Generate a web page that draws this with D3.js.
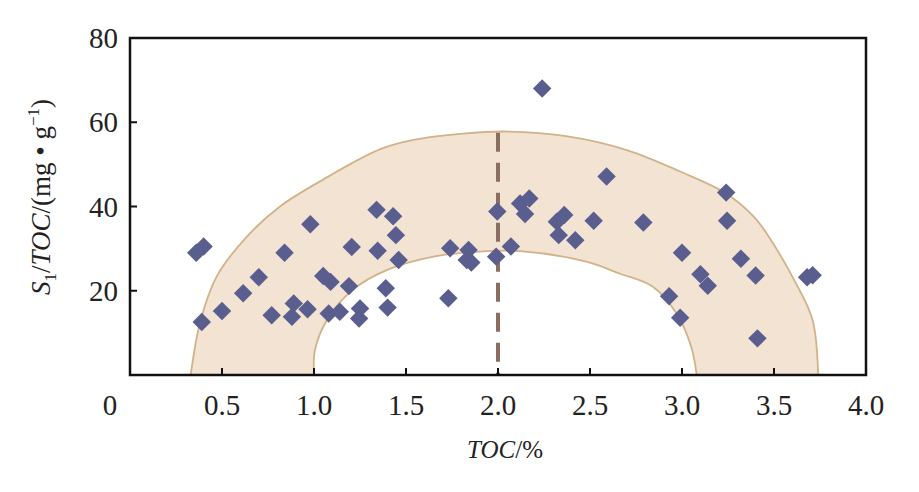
<!DOCTYPE html>
<html>
<head>
<meta charset="utf-8">
<script src="https://cdn.jsdelivr.net/npm/d3@7"></script>
<style>
  body { margin: 0; background: #fff; }
  text { font-family: "Liberation Serif", "Times New Roman", serif; fill: #222; }
</style>
</head>
<body>
<svg id="chart" width="919" height="492"></svg>
<script>
// sample points: TOC (%) and S1/TOC (mg/g)
const toc = [0.36, 0.40, 0.39, 0.50, 0.615, 0.70, 0.84, 0.98, 0.77, 0.89, 0.88, 0.965,
  1.05, 1.09, 1.19, 1.08, 1.14, 1.25, 1.245, 1.205, 1.34, 1.43, 1.445, 1.346, 1.46,
  1.39, 1.40, 1.73, 1.74, 1.84, 1.83, 1.855, 1.99, 2.07, 1.996, 2.12, 2.17, 2.147,
  2.24, 2.32, 2.36, 2.33, 2.42, 2.52, 2.59, 2.79, 3.24, 3.245, 3.00, 3.32, 3.40,
  3.10, 3.14, 2.93, 2.99, 3.41, 3.68, 3.71];
const s1toc = [29.0, 30.5, 12.6, 15.2, 19.4, 23.2, 29.0, 35.8, 14.2, 17.0, 13.8, 15.6,
  23.5, 22.1, 21.1, 14.6, 15.0, 15.8, 13.4, 30.4, 39.2, 37.7, 33.2, 29.5, 27.3,
  20.6, 16.0, 18.2, 30.1, 29.7, 27.3, 26.7, 28.1, 30.5, 38.8, 40.7, 41.9, 38.2,
  68.0, 36.4, 38.0, 33.2, 32.0, 36.6, 47.1, 36.2, 43.3, 36.6, 29.0, 27.6, 23.6,
  23.9, 21.2, 18.7, 13.6, 8.7, 23.2, 23.7];

// shaded band, outer and inner boundary
const outerToc = [0.33, 0.38, 0.47, 0.634, 0.815, 1.03, 1.36, 1.54, 1.81, 2.03, 2.37, 2.70, 2.99, 3.24, 3.39, 3.46, 3.62, 3.71, 3.74];
const outerS1 = [0, 12.3, 23.3, 32.8, 40.0, 45.9, 53.6, 55.8, 57.3, 57.8, 56.7, 53.4, 48.3, 43.1, 37.6, 33.6, 21.7, 13.0, 0];
const innerToc = [1.0, 1.005, 1.07, 1.21, 1.395, 1.65, 1.9, 2.12, 2.48, 2.66, 2.84, 2.97, 3.05, 3.08];
const innerS1 = [0, 5.9, 13.0, 20.2, 24.9, 28.1, 29.3, 29.4, 26.9, 24.1, 21.0, 14.6, 6.7, 0];

const dividerToc = 2.0;
const dividerTop = 57.5;

const xTicks = [0.5, 1.0, 1.5, 2.0, 2.5, 3.0, 3.5, 4.0];
const yTicks = [20, 40, 60, 80];

const svg = d3.select("#chart");
const plotLeft = 130, plotRight = 866, plotTop = 38, plotBottom = 375;

const x = d3.scaleLinear().domain([0, 4]).range([plotLeft, plotRight]);
const y = d3.scaleLinear().domain([0, 80]).range([plotBottom, plotTop]);

// band polygon: outer left->right, then inner right->left
const outerPts = outerToc.map((t, i) => [t, outerS1[i]]);
const innerPts = innerToc.map((t, i) => [t, innerS1[i]]);
const line = d3.line().x((d) => x(d[0])).y((d) => y(d[1])).curve(d3.curveCatmullRom);
const innerBack = line(innerPts.slice().reverse()).replace(/^M/, "L");

svg.append("path")
  .attr("d", line(outerPts) + innerBack + "Z")
  .attr("fill", "#f3e3d3")
  .attr("stroke", "none");
svg.append("path")
  .attr("d", line(outerPts))
  .attr("fill", "none")
  .attr("stroke", "#d2b288")
  .attr("stroke-width", 1.8);
svg.append("path")
  .attr("d", line(innerPts))
  .attr("fill", "none")
  .attr("stroke", "#d2b288")
  .attr("stroke-width", 1.8);

// dashed divider
svg.append("line")
  .attr("x1", x(dividerToc)).attr("x2", x(dividerToc))
  .attr("y1", y(dividerTop)).attr("y2", y(0))
  .attr("stroke", "#8a6e62")
  .attr("stroke-width", 4)
  .attr("stroke-dasharray", "19,11");

// diamonds
const diamond = d3.symbol().type(d3.symbolSquare).size(170);
svg.append("g")
  .selectAll("path")
  .data(toc.map((t, i) => [t, s1toc[i]]))
  .enter()
  .append("path")
  .attr("d", diamond)
  .attr("transform", (d) => `translate(${x(d[0])},${y(d[1])}) rotate(45)`)
  .attr("fill", "#595e8f");

// frame
svg.append("rect")
  .attr("x", plotLeft).attr("y", plotTop)
  .attr("width", plotRight - plotLeft).attr("height", plotBottom - plotTop)
  .attr("fill", "none")
  .attr("stroke", "#111")
  .attr("stroke-width", 2.5);

// inward ticks
svg.append("g")
  .selectAll("line")
  .data(xTicks.filter((t) => t < 4))
  .enter()
  .append("line")
  .attr("x1", (d) => x(d)).attr("x2", (d) => x(d))
  .attr("y1", plotBottom).attr("y2", plotBottom - 7)
  .attr("stroke", "#111").attr("stroke-width", 2);
svg.append("g")
  .selectAll("line")
  .data(yTicks.filter((t) => t < 80))
  .enter()
  .append("line")
  .attr("x1", plotLeft).attr("x2", plotLeft + 7)
  .attr("y1", (d) => y(d)).attr("y2", (d) => y(d))
  .attr("stroke", "#111").attr("stroke-width", 2);

// tick labels
svg.append("g")
  .selectAll("text")
  .data(xTicks)
  .enter()
  .append("text")
  .attr("x", (d) => x(d))
  .attr("y", 415)
  .attr("text-anchor", "middle")
  .attr("font-size", 29)
  .text((d) => d.toFixed(1));
svg.append("text")
  .attr("x", x(0) - 20).attr("y", 415)
  .attr("text-anchor", "middle")
  .attr("font-size", 29)
  .text("0");
svg.append("g")
  .selectAll("text")
  .data(yTicks)
  .enter()
  .append("text")
  .attr("x", plotLeft - 12)
  .attr("y", (d) => y(d) + 10)
  .attr("text-anchor", "end")
  .attr("font-size", 29)
  .text((d) => d);

// axis titles
const xt = svg.append("text")
  .attr("x", 505).attr("y", 458)
  .attr("text-anchor", "middle")
  .attr("font-size", 25);
xt.append("tspan").attr("font-style", "italic").text("TOC");
xt.append("tspan").text("/%");

const yt = svg.append("text")
  .attr("transform", "translate(50,197) rotate(-90)")
  .attr("text-anchor", "middle")
  .attr("font-size", 27);
yt.append("tspan").attr("font-style", "italic").text("S");
yt.append("tspan").attr("font-size", 17).attr("dy", 6).text("1");
yt.append("tspan").attr("dy", -6).text("/");
yt.append("tspan").attr("font-style", "italic").text("TOC");
yt.append("tspan").text("/(mg • g");
yt.append("tspan").attr("font-size", 17).attr("dy", -11).text("−1");
yt.append("tspan").attr("dy", 11).text(")");
</script>
</body>
</html>
